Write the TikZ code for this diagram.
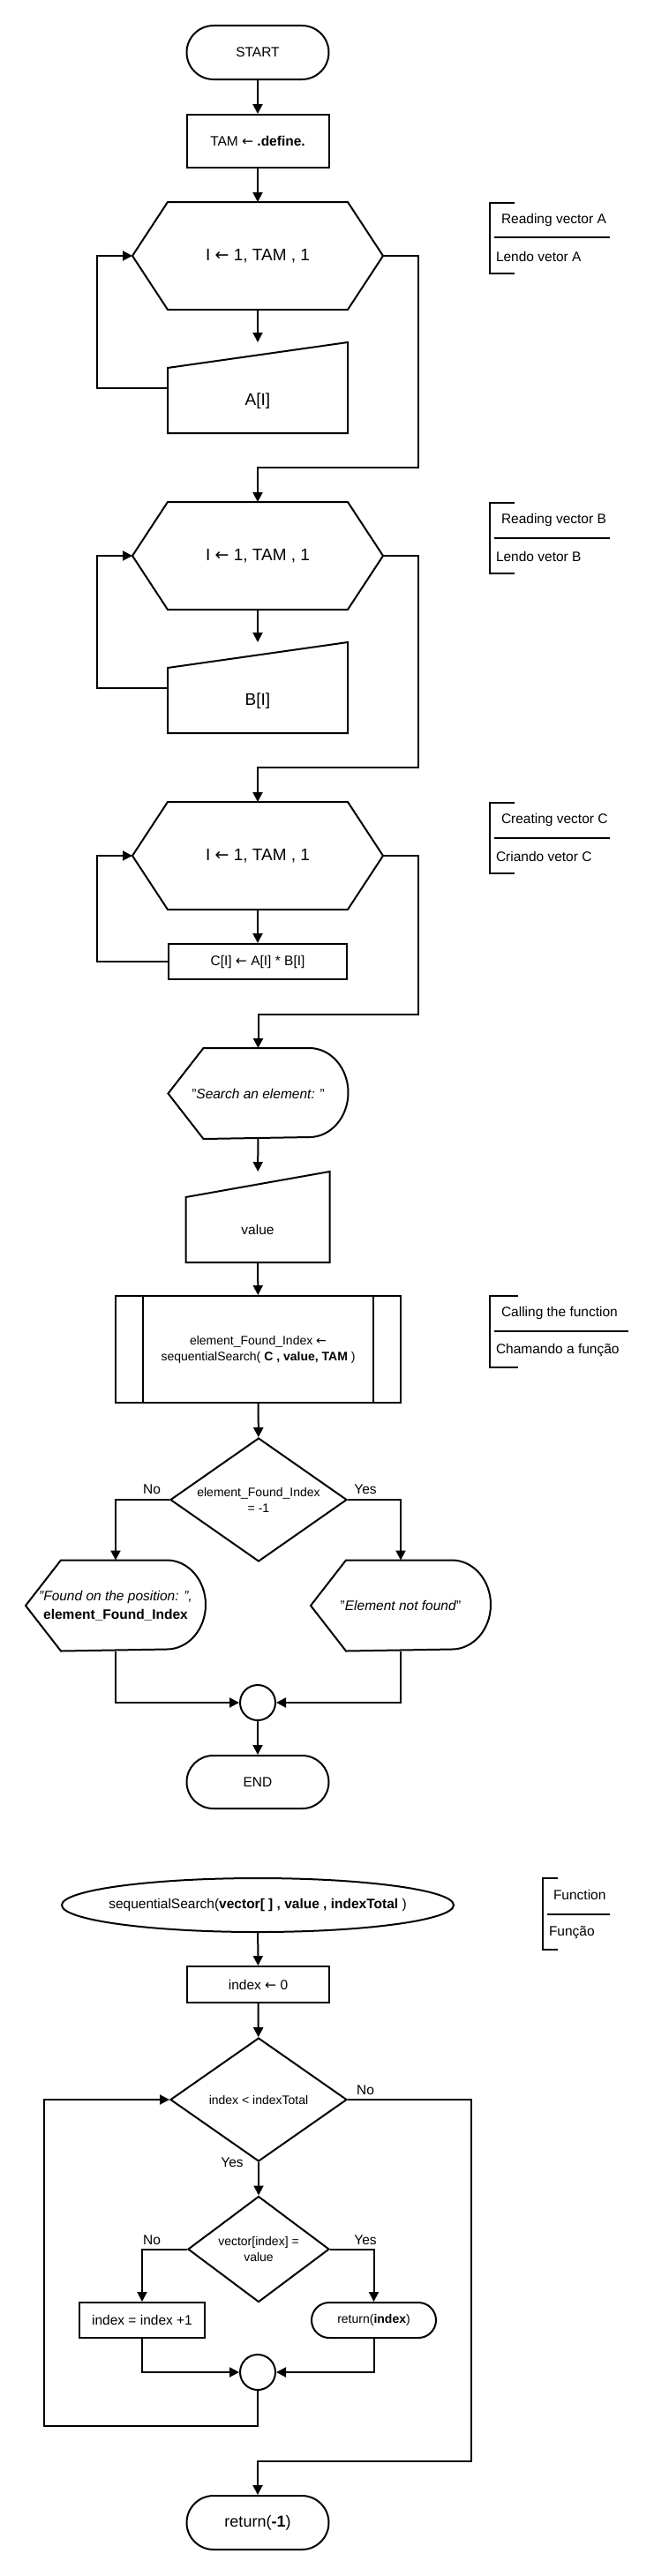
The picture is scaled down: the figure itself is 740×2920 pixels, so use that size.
\documentclass[tikz,border=0pt]{standalone}
\usepackage{fontspec}
\setmainfont{Liberation Sans}
\newfontfamily\arrowfont{DejaVu Sans}
\usepackage{tikz}
\usetikzlibrary{shapes, arrows.meta, positioning}
\newcommand{\assign}{{\arrowfont ←}}
\newcommand{\basetext}{\fontsize{15.5}{19}\selectfont}
\newcommand{\bigtext}{\fontsize{19}{23}\selectfont}
\newcommand{\smalltext}{\fontsize{14}{18}\selectfont}
\tikzstyle{term} = [rounded rectangle, draw, minimum width=161pt, minimum height=61pt, inner sep=0pt]
\tikzstyle{proc} = [rectangle, draw, minimum width=161pt, minimum height=40pt, inner sep=0pt]
\tikzstyle{loopbox} = [rectangle, minimum width=282pt, minimum height=120pt, inner sep=0pt, font=\bigtext]
\tikzstyle{inbox} = [rectangle, minimum width=202pt, minimum height=101pt, inner sep=0pt]
\tikzstyle{showbox} = [rectangle, minimum width=202pt, minimum height=101pt, inner sep=0pt, align=center]
\tikzstyle{subproc} = [rectangle, draw, minimum width=323pt, minimum height=121pt, inner sep=0pt, align=center, font=\smalltext]
\tikzstyle{decision} = [diamond, draw, aspect=1.43, minimum width=200pt, minimum height=140pt, inner sep=0pt, align=center, font=\smalltext]
\tikzstyle{joint} = [circle, draw, minimum size=40pt, inner sep=0pt]
\tikzstyle{line} = [draw]
\tikzstyle{flow} = [draw, -{Triangle[width=11pt, length=11pt]}]
\tikzstyle{answer} = [inner sep=0pt]
\tikzstyle{note} = [inner sep=0pt, anchor=west]
% outlines of the shapes that tikz does not have
\newcommand{\drawloop}[1]{\path [line] (#1.west) -- ([xshift=40pt]#1.north west) -- ([xshift=-40pt]#1.north east) -- (#1.east) -- ([xshift=-40pt]#1.south east) -- ([xshift=40pt]#1.south west) -- cycle;}
\newcommand{\drawinput}[1]{\path [line] (#1.south west) -- ([yshift=-29pt]#1.north west) -- (#1.north east) -- (#1.south east) -- cycle;}
\newcommand{\drawshow}[1]{\path [line] (#1.west) -- ([xshift=40pt]#1.north west) -- ([xshift=-44pt]#1.north east) arc [start angle=90, end angle=-90, x radius=44pt, y radius=50.5pt] -- ([xshift=40pt]#1.south west) -- cycle;}
\newcommand{\drawbars}[1]{\path [line] ([xshift=32pt]#1.north west) -- ([xshift=32pt]#1.south west); \path [line] ([xshift=-32pt]#1.north east) -- ([xshift=-32pt]#1.south east);}

\begin{document}
\begin{tikzpicture}[x=1pt, y=-1pt, line width=2pt, font=\basetext]
\fill [white] (0, 0) rectangle (740, 2920);
\useasboundingbox (0, 0) rectangle (740, 2920);

% main program
\node [term] (start) at (292, 59.5) {START};
\node [proc, minimum height=60pt] (tam) at (292, 160) {TAM \assign\ \textbf{.define.}};
\node [loopbox] (hexA) at (292, 290) {I \assign\ 1, TAM , 1};
\node [inbox, label={[yshift=-15pt, font=\bigtext]center:A[I]}] (readA) at (292, 439.5) {};
\node [loopbox] (hexB) at (292, 630) {I \assign\ 1, TAM , 1};
\node [inbox, label={[yshift=-15pt, font=\bigtext]center:B[I]}] (readB) at (292, 779.5) {};
\node [loopbox] (hexC) at (292, 970) {I \assign\ 1, TAM , 1};
\node [proc, minimum width=202pt] (calcC) at (292, 1090) {C[I] \assign\ A[I] * B[I]};
\node [showbox] (search) at (292.5, 1239.5) {"\textit{Search an element: }"};
\node [inbox, minimum width=161pt, label={[yshift=-14pt]center:value}] (value) at (292, 1379.5) {};
\node [subproc] (call) at (292.5, 1529.5) {element\_Found\_Index \assign\\sequentialSearch( \textbf{C , value, TAM} )};
\node [decision] (check) at (293, 1700) {element\_Found\_Index\\= -1};
\node [showbox, font=\fontsize{15.5}{21}\selectfont] (found) at (131, 1820) {\textit{"Found on the position: ",}\\\textbf{element\_Found\_Index}};
\node [showbox] (notfound) at (454, 1820) {"\textit{Element not found}"};
\node [joint] (join1) at (292, 1930) {};
\node [term, minimum height=60pt] (end) at (292, 2020) {END};

\drawloop{hexA}
\drawloop{hexB}
\drawloop{hexC}
\drawinput{readA}
\drawinput{readB}
\drawinput{value}
\drawshow{search}
\drawshow{found}
\drawshow{notfound}
\drawbars{call}

\path [flow] (start) -- (tam);
\path [flow] (tam) -- (hexA);
\path [flow] (hexA) -- (readA);
\path [flow] (readA.west) -- ++(-80, 0) |- (hexA.west);
\path [flow] (hexA.east) -| (474, 530) -| (hexB.north);
\path [flow] (hexB) -- (readB);
\path [flow] (readB.west) -- ++(-80, 0) |- (hexB.west);
\path [flow] (hexB.east) -| (474, 870) -| (hexC.north);
\path [flow] (hexC) -- (calcC);
\path [flow] (calcC.west) -- ++(-80, 0) |- (hexC.west);
\path [flow] (hexC.east) -| (474, 1150) -| (search.north);
\path [flow] (search) -- (value);
\path [flow] (value) -- (call);
\path [flow] (call) -- (check);
\path [flow] (check.west) -| (found.north);
\path [flow] (check.east) -| (notfound.north);
\path [flow] (found.south) |- (join1.west);
\path [flow] (notfound.south) |- (join1.east);
\path [flow] (join1) -- (end);
\node [answer] (noA) at (172, 1688) {No};
\node [answer] (yesA) at (414, 1688) {Yes};

% side notes
\path [line] (583, 230) -- (555, 230) -- (555, 310) -- (583, 310);
\path [line, line width=2.5pt] (560, 269) -- (691, 269);
\node [note] (readAen) at (567, 249) {Reading vector A};
\node [note] (readApt) at (561, 291) {Lendo vetor A};
\path [line] (583, 570) -- (555, 570) -- (555, 650) -- (583, 650);
\path [line, line width=2.5pt] (560, 610) -- (691, 610);
\node [note] (readBen) at (567, 589) {Reading vector B};
\node [note] (readBpt) at (561, 631) {Lendo vetor B};
\path [line] (583, 910) -- (555, 910) -- (555, 990) -- (583, 990);
\path [line, line width=2.5pt] (560, 950) -- (691, 950);
\node [note] (makeCen) at (567, 929) {Creating vector C};
\node [note] (makeCpt) at (561, 971) {Criando vetor C};
\path [line] (587, 1469) -- (555, 1469) -- (555, 1550) -- (587, 1550);
\path [line, line width=2.5pt] (560, 1509) -- (712, 1509);
\node [note] (callen) at (567, 1488) {Calling the function};
\node [note] (callpt) at (561, 1531) {Chamando a função};

% the function
\node [rectangle, minimum width=444pt, minimum height=61pt, inner sep=0pt] (func) at (292, 2159.5) {sequentialSearch(\textbf{vector[ ] , value , indexTotal} )};
\path [line] (func.center) ellipse [x radius=222pt, y radius=30.5pt];
\node [proc, minimum height=41pt] (idx) at (292.5, 2249.5) {index \assign\ 0};
\node [decision] (loop) at (293, 2380) {index < indexTotal};
\node [decision, aspect=1.33, minimum width=160pt, minimum height=120pt] (match) at (293, 2549.5) {vector[index] =\\value};
\node [proc, minimum width=142pt] (inc) at (161, 2630) {index = index +1};
\node [term, minimum width=141pt, minimum height=40pt, font=\smalltext] (retidx) at (423.5, 2630) {return(\textbf{index})};
\node [joint] (join2) at (292, 2689) {};
\node [term, font=\fontsize{18}{22}\selectfont] (retneg) at (292, 2859.5) {return(\textbf{-1})};

\path [flow] (func) -- (idx);
\path [flow] (idx) -- (loop);
\path [flow] (loop) -- (match);
\path [flow] (loop.east) -| (534, 2790) -| (retneg.north);
\path [flow] (match.west) -| (inc.north);
\path [flow] (match.east) -| (retidx.north);
\path [flow] (inc.south) |- (join2.west);
\path [flow] (retidx.south) |- (join2.east);
\path [flow] (join2.south) |- (50, 2750) |- (loop.west);
\node [answer] (noB) at (414, 2369) {No};
\node [answer] (yesB) at (263, 2451) {Yes};
\node [answer] (noC) at (172, 2539) {No};
\node [answer] (yesC) at (414, 2539) {Yes};

\path [line] (632, 2129) -- (615, 2129) -- (615, 2210) -- (632, 2210);
\path [line, line width=2.5pt] (620, 2170) -- (691, 2170);
\node [note] (funcen) at (626, 2148) {Function};
\node [note] (funcpt) at (621, 2191) {Função};
\end{tikzpicture}
\end{document}
